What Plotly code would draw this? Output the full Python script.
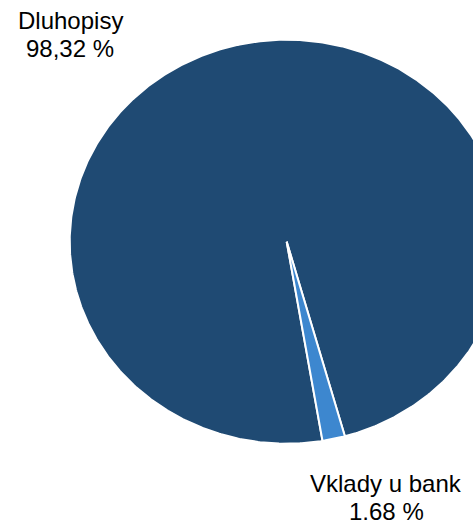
import numpy as np
import plotly.graph_objects as go

# ---- data ----
labels = ["Dluhopisy", "Vklady u bank"]
values = [98.32, 1.68]
colors = ["#1f4a73", "#3d87cf"]

W, H = 473, 520
cx_px, cy_px = 286.7, 241.7   # pie centre in pixels
rx_px, ry_px = 217.0, 202.0   # pie radii in pixels (slightly elliptic, as in reference)
start_deg = 170.5             # clockwise from 12 o'clock, where the first slice starts

fig = go.Figure()

total = sum(values)
cum = start_deg
for lab, val, col in zip(labels, values, colors):
    span = 360.0 * val / total
    t = np.radians(np.linspace(cum, cum + span, max(int(span * 2), 4)))
    xs = np.concatenate([[0.0], np.sin(t), [0.0]])
    ys = np.concatenate([[0.0], np.cos(t), [0.0]])
    fig.add_trace(go.Scatter(
        x=xs, y=ys, mode="lines", fill="toself", fillcolor=col,
        line=dict(color="white", width=2), name=lab, hoverinfo="name",
        showlegend=False,
    ))
    cum += span

def fmt(v):
    return f"{v:.2f}".replace(".", ",") + " %"

font = dict(family="Liberation Sans, Arial, sans-serif", size=24, color="#000000")
label_pos = [  # (x centre px, name middle px, value middle px)
    (70, 21, 48),
    (386, 483, 511),
]
annotations = []
for lab, val, (xp, y1, y2) in zip(labels, values, label_pos):
    annotations.append(dict(text=lab, x=xp / W, y=1 - y1 / H, xref="paper", yref="paper",
                            xanchor="center", yanchor="middle", showarrow=False, font=font))
    annotations.append(dict(text=fmt(val), x=xp / W, y=1 - y2 / H, xref="paper", yref="paper",
                            xanchor="center", yanchor="middle", showarrow=False, font=font))

fig.update_layout(
    width=W, height=H,
    margin=dict(l=0, r=0, t=0, b=0),
    paper_bgcolor="white", plot_bgcolor="white",
    xaxis=dict(visible=False, range=[-cx_px / rx_px, (W - cx_px) / rx_px], fixedrange=True),
    yaxis=dict(visible=False, range=[(cy_px - H) / ry_px, cy_px / ry_px], fixedrange=True),
    annotations=annotations,
    showlegend=False,
)

fig.write_html("out.html")
